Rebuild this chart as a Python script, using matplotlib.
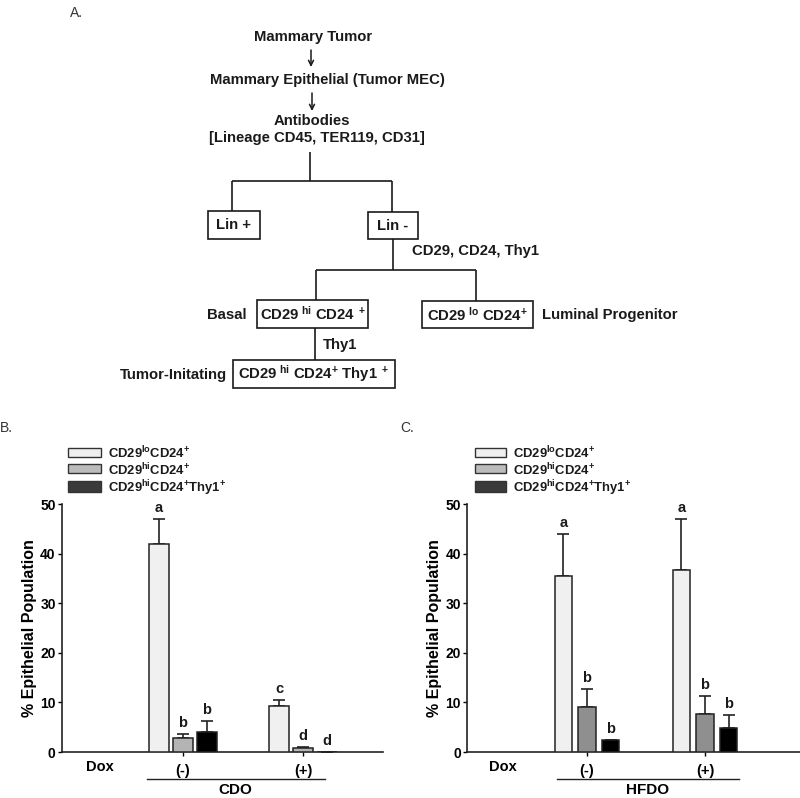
import matplotlib
matplotlib.use("Agg")
import matplotlib.pyplot as plt
from matplotlib.patches import Rectangle
import matplotlib.transforms as mtrans

plt.rcParams['font.family'] = ['Liberation Sans', 'DejaVu Sans']
plt.rcParams['mathtext.fontset'] = 'custom'
plt.rcParams['mathtext.rm'] = 'Liberation Sans:bold'
plt.rcParams['mathtext.bf'] = 'Liberation Sans:bold'
plt.rcParams['mathtext.it'] = 'Liberation Sans:bold'

# ---------------- data ----------------
groups = ['(-)', '(+)']
series_labels = [r'CD29$^{lo}$CD24$^{+}$', r'CD29$^{hi}$CD24$^{+}$', r'CD29$^{hi}$CD24$^{+}$Thy1$^{+}$']

b_lo = [41.9, 9.2]
b_hi = [2.8, 0.8]
b_thy = [4.0, 0.0]
b_lo_err = [5.0, 1.3]
b_hi_err = [0.8, 0.2]
b_thy_err = [2.2, 0.0]
b_lo_let = ['a', 'c']
b_hi_let = ['b', 'd']
b_thy_let = ['b', 'd']

c_lo = [35.5, 36.7]
c_hi = [9.1, 7.6]
c_thy = [2.35, 4.8]
c_lo_err = [8.4, 10.3]
c_hi_err = [3.6, 3.6]
c_thy_err = [0.0, 2.65]
c_lo_let = ['a', 'a']
c_hi_let = ['b', 'b']
c_thy_let = ['b', 'b']

yticks = [0, 10, 20, 30, 40, 50]

W, H = 800, 798
fig = plt.figure(figsize=(8, 7.98), dpi=100)

# ---------------- Panel A (diagram, pixel coords) ----------------
axA = fig.add_axes([0, 0, 1, 1])
axA.set_xlim(0, W)
axA.set_ylim(H, 0)
axA.axis('off')

fsA = 10.7
tk = dict(fontsize=fsA, fontweight='bold', color='#1a1a1a')

axA.text(70, 13, 'A.', fontsize=10, color='#333333', va='center', ha='left')
axA.text(0, 428, 'B.', fontsize=10, color='#333333', va='center', ha='left')
axA.text(400, 428, 'C.', fontsize=10, color='#333333', va='center', ha='left')

axA.text(313, 37, 'Mammary Tumor', ha='center', va='center', **tk)
axA.annotate('', xy=(311, 67), xytext=(311, 50),
             arrowprops=dict(arrowstyle='->', lw=1.1, color='#1a1a1a', mutation_scale=9,
                             shrinkA=0, shrinkB=0))
axA.text(327, 80, 'Mammary Epithelial (Tumor MEC)', ha='center', va='center', **tk)
axA.annotate('', xy=(312, 111), xytext=(312, 93),
             arrowprops=dict(arrowstyle='->', lw=1.1, color='#1a1a1a', mutation_scale=9,
                             shrinkA=0, shrinkB=0))
axA.text(312, 121, 'Antibodies', ha='center', va='center', **tk)
axA.text(317, 138, '[Lineage CD45, TER119, CD31]', ha='center', va='center', **tk)

lines = [((310, 152), (310, 181)), ((232, 181), (392, 181)), ((232, 181), (232, 211)),
         ((392, 181), (392, 212)), ((393, 239), (393, 270)), ((316, 270), (476, 270)),
         ((316, 270), (316, 300)), ((476, 270), (476, 301)), ((315, 328), (315, 360))]
for (x0, y0), (x1, y1) in lines:
    axA.plot([x0, x1], [y0, y1], color='#1a1a1a', lw=1.2, solid_capstyle='butt')

boxes = [((208, 211, 52, 28), 'Lin +'),
         ((368, 212, 50, 27), 'Lin -'),
         ((257, 300, 111, 28), r'CD29$^{\ hi}$ CD24$^{\ +}$'),
         ((422, 301, 111, 27), r'CD29$^{\ lo}$ CD24$^{+}$'),
         ((233, 360, 162, 28), r'CD29$^{\ hi}$ CD24$^{+}$ Thy1$^{\ +}$')]
for (x, y, w, h), t in boxes:
    axA.add_patch(Rectangle((x, y), w, h, fill=False, ec='#1a1a1a', lw=1.2))
    axA.text(x + w / 2, y + h / 2, t, ha='center', va='center', **tk)

axA.text(412, 251, 'CD29, CD24, Thy1', ha='left', va='center', **tk)
axA.text(247, 315, 'Basal', ha='right', va='center', **tk)
axA.text(323, 345, 'Thy1', ha='left', va='center', **tk)
axA.text(227, 375, 'Tumor-Initating', ha='right', va='center', **tk)
axA.text(542, 315, 'Luminal Progenitor', ha='left', va='center', **tk)

# legends (pixel coords)
leg_colors = ['#efefef', '#bcbcbc', '#3a3a3a']
leg_rows = [(448, 457, 453), (464, 473, 470), (481, 492, 488)]
for bx0, bx1, tx in [(68, 101, 108), (475, 506, 513)]:
    for (y0, y1, yc), col, lab in zip(leg_rows, leg_colors, series_labels):
        axA.add_patch(Rectangle((bx0, y0), bx1 - bx0, y1 - y0, fc=col, ec='#333333', lw=1.0))
        axA.text(tx, yc, lab, ha='left', va='center', fontsize=9.4, fontweight='bold', color='#1a1a1a')

# ---------------- Bar panels ----------------
def bar_panel(rect, xlim, xdox, line_span, label, means, errs, lets, colors, width):
    ax = fig.add_axes(rect)
    ax.set_xlim(*xlim)
    ax.set_ylim(0, 50)
    offsets = [-0.2, 0.0, 0.2]
    for m, e, l, col, off in zip(means, errs, lets, colors, offsets):
        xs = [i + 1 + off for i in range(len(groups))]
        ax.bar(xs, m, width=width, color=col, edgecolor='#222222', linewidth=1.1, zorder=3)
        ax.errorbar(xs, m, yerr=[[0] * len(m), e], fmt='none', ecolor='#222222',
                    elinewidth=1.2, capsize=4, capthick=1.2, zorder=2)
        for x, mv, ev, lt in zip(xs, m, e, l):
            ax.annotate(lt, xy=(x, mv + ev), xytext=(0, 3), textcoords='offset points',
                        ha='center', va='bottom', fontsize=10.5, fontweight='bold', color='#1a1a1a')
    for s in ['top', 'right']:
        ax.spines[s].set_visible(False)
    for s in ['left', 'bottom']:
        ax.spines[s].set_linewidth(1.2)
        ax.spines[s].set_color('#222222')
    ax.set_yticks(yticks)
    ax.set_yticklabels([str(v) for v in yticks], fontsize=10, fontweight='bold')
    ax.tick_params(axis='y', length=3, width=1.0, pad=1.5)
    ax.set_xticks([1, 2])
    ax.set_xticklabels(groups, fontsize=10.5, fontweight='bold')
    ax.tick_params(axis='x', length=3, width=1.0, pad=6)
    ax.set_ylabel('% Epithelial Population', fontsize=11.5, fontweight='bold', labelpad=2)
    trans = mtrans.blended_transform_factory(ax.transData, ax.transAxes)
    ax.text(xdox, -0.062, 'Dox', transform=trans, ha='center', va='center',
            fontsize=10.5, fontweight='bold')
    ax.plot(line_span, [-0.109, -0.109], transform=trans, color='#222222', lw=1.0, clip_on=False)
    ax.text(sum(line_span) / 2, -0.155, label, transform=trans, ha='center', va='center',
            fontsize=11, fontweight='bold')
    return ax

axH = 248 / H
bot = (H - 752) / H
bar_panel([62 / W, bot, 321 / W, axH], (-0.008, 2.667), 0.31, [0.70, 2.18], 'CDO',
          [b_lo, b_hi, b_thy], [b_lo_err, b_hi_err, b_thy_err],
          [b_lo_let, b_hi_let, b_thy_let], ['#f0f0f0', '#b4b4b4', '#000000'], 0.16)
bar_panel([467 / W, bot, 333 / W, axH], (-0.017, 2.805), 0.288, [0.746, 2.288], 'HFDO',
          [c_lo, c_hi, c_thy], [c_lo_err, c_hi_err, c_thy_err],
          [c_lo_let, c_hi_let, c_thy_let], ['#f0f0f0', '#8f8f8f', '#000000'], 0.148)

fig.savefig('out.png', dpi=100)
